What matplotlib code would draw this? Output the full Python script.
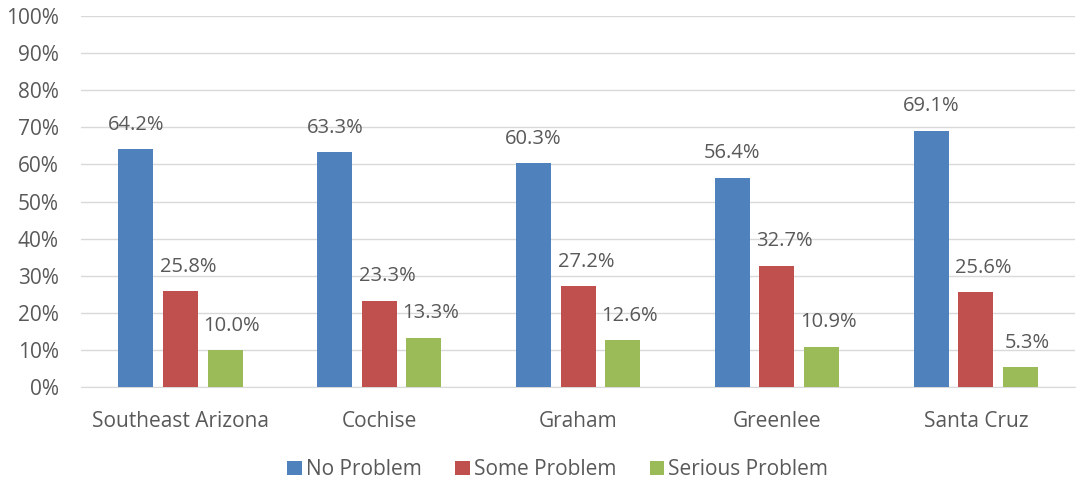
import matplotlib.pyplot as plt
import numpy as np

plt.rcParams['font.family'] = ['Open Sans', 'DejaVu Sans']

categories = ['Southeast Arizona', 'Cochise', 'Graham', 'Greenlee', 'Santa Cruz']
no_problem = [64.2, 63.3, 60.3, 56.4, 69.1]
some_problem = [25.8, 23.3, 27.2, 32.7, 25.6]
serious_problem = [10.0, 13.3, 12.6, 10.9, 5.3]
series_names = ['No Problem', 'Some Problem', 'Serious Problem']
colors = ['#4F81BD', '#C0504D', '#9BBB59']
text_color = '#595959'

fig = plt.figure(figsize=(10.85, 4.87), dpi=100)
ax = fig.add_axes([0.0747, 0.2053, 0.9163, 0.7617])

x = np.arange(len(categories))
width = 0.176
step = 0.224
# excel nudges the labels of the 2nd and 3rd series a bit to the right
label_dx = [0, 5.5, 5.0]
for i, (vals, name, col) in enumerate(zip([no_problem, some_problem, serious_problem], series_names, colors)):
    pos = x + (i - 1) * step
    ax.bar(pos, vals, width, color=col, label=name, zorder=3)
    for p, v in zip(pos, vals):
        ax.annotate('%.1f%%' % v, (p, v), xytext=(label_dx[i], 17.5), textcoords='offset points',
                    ha='center', va='center', fontsize=14.5, color=text_color)

ax.set_xlim(-0.5, len(categories) - 0.5)
ax.set_ylim(0, 100)
ax.set_yticks(range(0, 101, 10))
ax.set_yticklabels(['%d%%' % t for t in range(0, 101, 10)])
ax.set_xticks(x)
ax.set_xticklabels(categories)
ax.tick_params(axis='both', length=0, labelsize=15, labelcolor=text_color)
ax.tick_params(axis='x', pad=17)
ax.tick_params(axis='y', pad=16)
ax.grid(axis='y', color='#D9D9D9', linewidth=1, zorder=0)
for s in ['top', 'right', 'left']:
    ax.spines[s].set_visible(False)
ax.spines['bottom'].set_color('#D9D9D9')

fig.legend(loc='lower center', bbox_to_anchor=(0.514, -0.025), ncol=3, frameon=False,
           fontsize=15, labelcolor=text_color, handlelength=0.7, handleheight=0.7,
           handletextpad=0.2, columnspacing=1.6)

fig.savefig('out.png', dpi=100)
